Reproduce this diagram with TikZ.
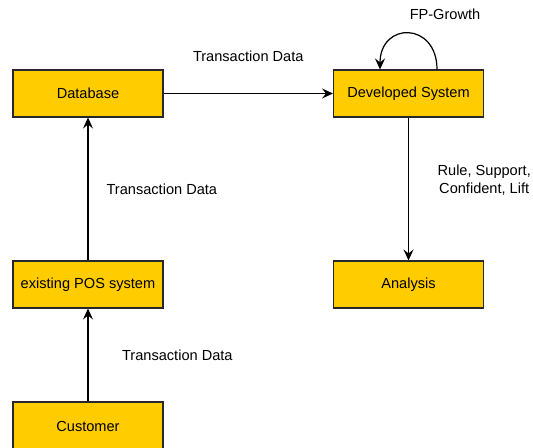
\documentclass[tikz,border=0pt]{standalone}
\usepackage{fontspec}
\setmainfont{Liberation Sans}
\definecolor{boxGold}{RGB}{255,204,0}
\definecolor{boxEdge}{RGB}{40,40,40}
\usetikzlibrary{arrows.meta,positioning}

\begin{document}
\begin{tikzpicture}[x=0.02cm, y=0.02cm,
    every node/.style={font=\fontsize{8.3}{10.5}\selectfont},
    block/.style={draw=boxEdge, fill=boxGold, line width=0.6pt,
      minimum width=3cm, minimum height=0.94cm, inner sep=0pt},
    flow/.style={line width=0.7pt, -{Stealth[length=2.2mm,width=2mm,inset=0.8mm]}},
    lbl/.style={inner sep=0pt, align=center}]
    \useasboundingbox (0,0) rectangle (533,448);

    % boxes
    \node[block] (db)   at (88,354.5)    {Database};
    \node[block] (dev)  at (408.5,354.5) {Developed System};
    \node[block] (pos)  at (88,163.5)    {existing POS system};
    \node[block] (ana)  at (408.5,163.5) {Analysis};
    \node[block, minimum height=0.96cm] (cust) at (88,22) {Customer};

    % data flow
    \draw[flow] (cust) -- node[lbl, midway, right=0.67cm] (td1) {Transaction Data} (pos);
    \draw[flow] (pos) -- node[lbl, midway, right=0.36cm] (td2) {Transaction Data} (db);
    \draw[flow] (db) -- node[lbl, midway, above=0.62cm] (td3) {Transaction Data} (dev);
    \draw[flow] (dev) -- node[lbl, pos=0.44, right=0.57cm] (res) {Rule, Support,\\Confident, Lift} (ana);

    % mining loop
    \draw[flow] ([xshift=0.57cm]dev.north) to[out=90, in=90, distance=0.96cm] ([xshift=-0.57cm]dev.north);
    \node[lbl] (fp) at ([xshift=0.73cm, yshift=1.1cm]dev.north) {FP-Growth};
\end{tikzpicture}
\end{document}
